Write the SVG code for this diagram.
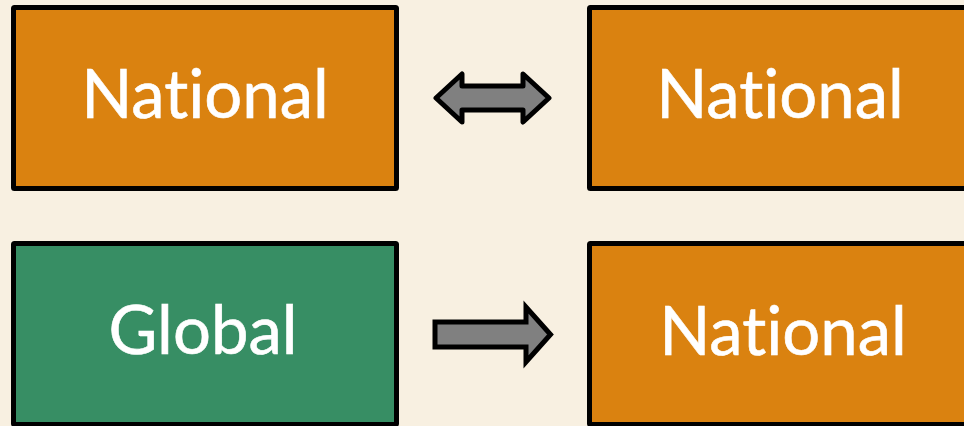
<svg xmlns="http://www.w3.org/2000/svg" width="964" height="426" viewBox="0 0 964 426">
<style>
.box{stroke:#000;stroke-width:5;stroke-linejoin:round}
.nat{fill:#DA8210}
.glo{fill:#378E64}
.lbl{font-family:Lato,"Open Sans","Liberation Sans",sans-serif;font-size:67px;fill:#fff;text-anchor:middle;font-variant-ligatures:none;font-feature-settings:"liga" 0;stroke:#fff;stroke-width:0.6}
.arr{fill:#808080;stroke:#000;stroke-width:5}
</style>
<rect width="964" height="426" fill="#F8F0E1"/>
<g id="nat-top-left">
<rect class="box nat" x="13.5" y="7.5" width="383" height="181" rx="1"/>
<text class="lbl" x="205" y="118">National</text>
</g>
<g id="nat-top-right">
<rect class="box nat" x="589.5" y="7.5" width="383" height="181" rx="1"/>
<text class="lbl" x="780" y="118">National</text>
</g>
<g id="global">
<rect class="box glo" x="13.5" y="243.5" width="383" height="181" rx="1"/>
<text class="lbl" x="203" y="354">Global</text>
</g>
<g id="nat-bottom-right">
<rect class="box nat" x="589.5" y="243.5" width="383" height="181" rx="1"/>
<text class="lbl" x="783" y="355">National</text>
</g>
<g id="connectors">
<polygon class="arr" stroke-linejoin="round" points="436,98 462,74 462,86 523,86 523,74 549,98 523,122 523,110 462,110 462,122"/>
<polygon class="arr" stroke-linejoin="miter" points="435,322 526,322 526,307 550.5,334.5 526,362 526,347 435,347"/>
</g>
</svg>
